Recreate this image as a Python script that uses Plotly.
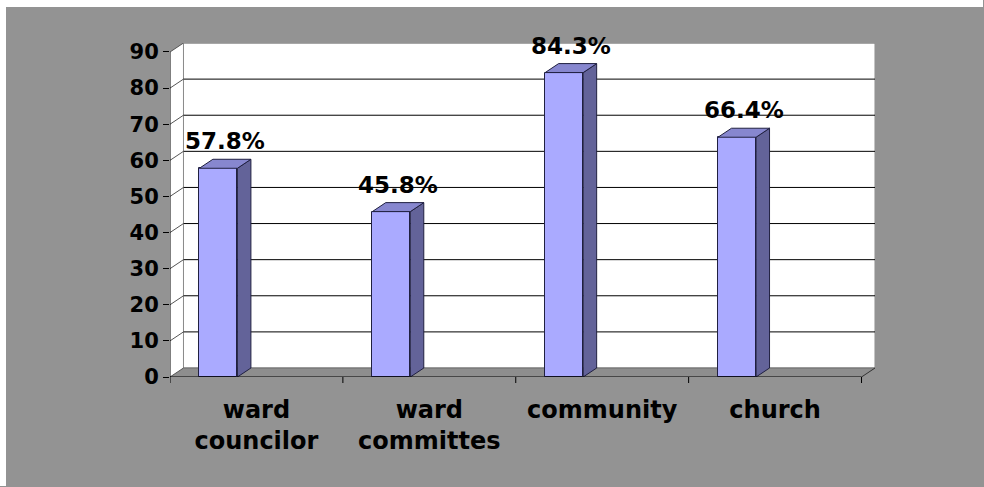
import plotly.graph_objects as go

# ---- data -------------------------------------------------------------
categories = ["ward<br>councilor", "ward<br>committes", "community", "church"]
values = [57.8, 45.8, 84.3, 66.4]
y_ticks = [0, 10, 20, 30, 40, 50, 60, 70, 80, 90]
value_labels = [f"{v:.1f}%" for v in values]

# ---- geometry / style --------------------------------------------------
W, H = 984, 487
ML, MR, MT, MB = 170, 109, 43, 110
PLOT_W, PLOT_H = W - ML - MR, H - MT - MB

X0, X1 = -0.5, len(categories) - 0.5
Y_TOP = y_ticks[-1]
DX, DY = 0.078, 2.49          # depth of the 3-D box, in data units
BAR_W, BAR_OFF = 0.22, -0.33  # front face width and offset from category centre

BG = "#939393"
FLOOR = "#8e8e8e"
FRONT = "#AAAAFF"
SIDE = "#636399"
TOP = "#8787CF"
EDGE = "#202040"
FONT = "DejaVu Sans"


def px_x(p):
    return (p - ML) / PLOT_W


def px_y(p):
    return (H - MB - p) / PLOT_H


def line(x0, y0, x1, y1, color, width=1, layer="below"):
    return dict(type="line", xref="x", yref="y", x0=x0, y0=y0, x1=x1, y1=y1,
                line=dict(color=color, width=width), layer=layer)


shapes = []
# thin white edge along the top and left of the picture
shapes.append(dict(type="rect", xref="paper", yref="paper", x0=px_x(0), x1=px_x(6),
                   y0=px_y(H - 1), y1=px_y(0), fillcolor="white", line=dict(width=0),
                   layer="below"))
shapes.append(dict(type="rect", xref="paper", yref="paper", x0=px_x(0), x1=px_x(W - 1),
                   y0=px_y(7), y1=px_y(0), fillcolor="white", line=dict(width=0),
                   layer="below"))

# floor
shapes.append(dict(type="path", xref="x", yref="y",
                   path=f"M {X0},0 L {X1},0 L {X1 + DX},{DY} L {X0 + DX},{DY} Z",
                   fillcolor=FLOOR, line=dict(width=0), layer="below"))
# back wall
shapes.append(dict(type="rect", xref="x", yref="y", x0=X0 + DX, x1=X1 + DX,
                   y0=DY, y1=Y_TOP + DY, fillcolor="white",
                   line=dict(color="#8a8a8a", width=1), layer="below"))
# left wall
shapes.append(dict(type="path", xref="x", yref="y",
                   path=f"M {X0},0 L {X0},{Y_TOP} L {X0 + DX},{Y_TOP + DY} L {X0 + DX},{DY} Z",
                   fillcolor="white", line=dict(width=0), layer="below"))
shapes.append(line(X0 + DX, DY, X0 + DX, Y_TOP + DY, "#8a8a8a"))

# gridlines on the back wall and matching diagonals on the side wall
for t in y_ticks:
    if t > 0:
        shapes.append(line(X0 + DX, t + DY, X1 + DX, t + DY,
                           "#8a8a8a" if t == Y_TOP else "black"))
    else:
        shapes.append(line(X0 + DX, DY, X1 + DX, DY, "#6e6e6e"))
    shapes.append(line(X0, t, X0 + DX, t + DY, "#555555"))

# front axes
shapes.append(line(X0, 0, X0, Y_TOP, "black", layer="above"))
shapes.append(line(X0, 0, X1, 0, "black", layer="above"))
shapes.append(line(X1, 0, X1 + DX, DY, "#333333", layer="above"))
# category boundary ticks
for k in range(len(categories) + 1):
    shapes.append(dict(type="line", xref="x", yref="paper", x0=X0 + k, x1=X0 + k,
                       y0=0, y1=-6 / PLOT_H, line=dict(color="black", width=1)))

fig = go.Figure()

# side and top faces of each column
for i, v in enumerate(values):
    xl = i + BAR_OFF
    xr = xl + BAR_W
    fig.add_trace(go.Scatter(
        x=[xr, xr, xr + DX, xr + DX, xr], y=[0, v, v + DY, DY, 0],
        mode="lines", fill="toself", fillcolor=SIDE,
        line=dict(color=EDGE, width=1), hoverinfo="skip", showlegend=False))
    fig.add_trace(go.Scatter(
        x=[xl, xr, xr + DX, xl + DX, xl], y=[v, v, v + DY, v + DY, v],
        mode="lines", fill="toself", fillcolor=TOP,
        line=dict(color=EDGE, width=1), hoverinfo="skip", showlegend=False))

# front faces
fig.add_trace(go.Bar(
    x=list(range(len(categories))), y=values, width=BAR_W, offset=BAR_OFF,
    marker=dict(color=FRONT, line=dict(color=EDGE, width=1)),
    hoverinfo="skip", showlegend=False))

annotations = []
for i, (v, lab) in enumerate(zip(values, value_labels)):
    annotations.append(dict(
        x=i + BAR_OFF + BAR_W / 2 + DX / 2, y=v + DY, xref="x", yref="y",
        text=lab, showarrow=False, yanchor="bottom", yshift=3,
        font=dict(family=FONT, size=23, color="black", weight="bold")))

fig.update_layout(
    width=W, height=H,
    margin=dict(l=ML, r=MR, t=MT, b=MB, pad=0),
    paper_bgcolor=BG, plot_bgcolor="rgba(0,0,0,0)",
    shapes=shapes, annotations=annotations,
    bargap=0,
    xaxis=dict(range=[X0, X1 + DX], tickvals=list(range(len(categories))),
               ticktext=[f"<b>{c}</b>" for c in categories],
               showgrid=False, zeroline=False, showline=False, ticks="",
               ticklabelstandoff=16,
               tickfont=dict(family=FONT, size=24, color="black"),
               fixedrange=True),
    yaxis=dict(range=[0, Y_TOP + DY], tickvals=y_ticks,
               ticktext=[f"<b>{t}</b>" for t in y_ticks],
               showgrid=False, zeroline=False, showline=False,
               ticks="outside", ticklen=6, tickcolor="black", tickwidth=1,
               tickfont=dict(family=FONT, size=21, color="black"),
               fixedrange=True),
)

fig.write_html("out.html", config={"displayModeBar": False})
